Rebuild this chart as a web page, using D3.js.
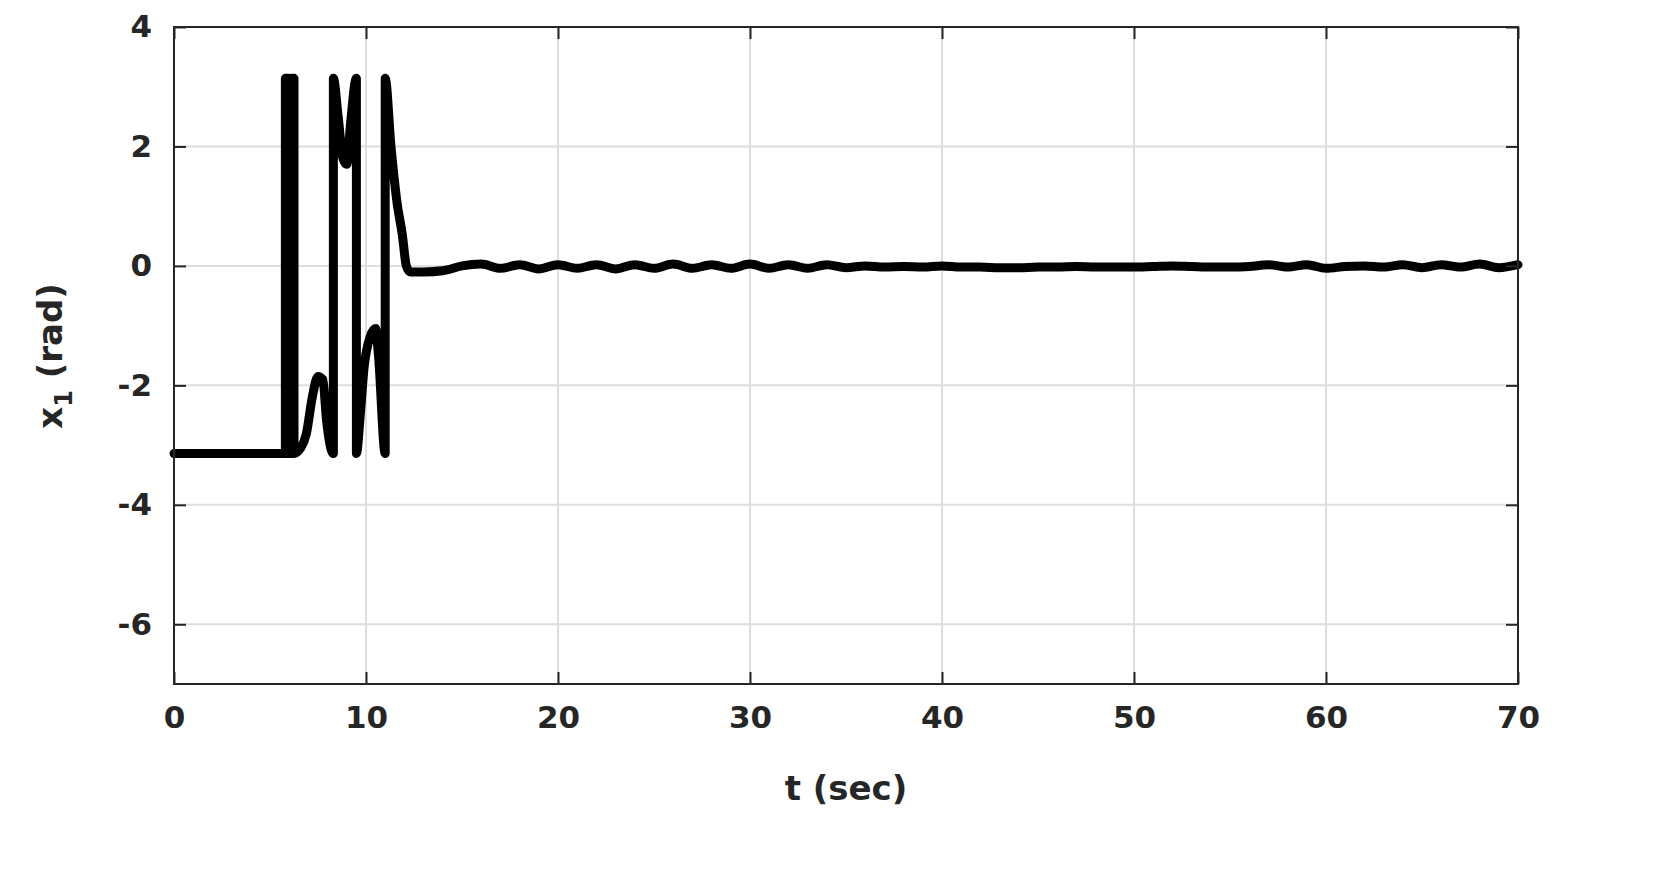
<!DOCTYPE html><html><head><meta charset="utf-8"><script src="https://cdn.jsdelivr.net/npm/d3@7"></script>
<style>body{margin:0;background:#fff}</style></head><body><svg id="c" width="1659" height="873"></svg><script>
const tHead=[0,5.8,5.8,5.95,5.95,6.1,6.1,6.25,6.25,6.4,6.6,6.9,7.2,7.5,7.75,7.95,8.3,8.3,8.55,8.8,9.0,9.2,9.5,9.5,9.7,9.9,10.2,10.5,10.65,11.0,11.0,11.3,11.6,11.9,12.1,12.3,12.6];
const xHead=[-3.14,-3.14,3.14,3.14,-3.14,-3.14,3.14,3.14,-3.14,-3.12,-3.05,-2.8,-2.2,-1.85,-1.9,-2.6,-3.14,3.14,2.5,1.8,1.7,2.4,3.14,-3.14,-2.5,-1.7,-1.2,-1.05,-1.5,-3.14,3.14,2.0,1.1,0.5,0.0,-0.1,-0.1];
const tTail=[13,14,15,16,17,18,19,20,21,22,23,24,25,26,27,28,29,30,31,32,33,34,35,36,37,38,39,40,41,42,43,44,45,46,47,48,49,50,51,52,53,54,55,56,57,58,59,60,61,62,63,64,65,66,67,68,69,70];
const xTail=[-0.1,-0.08,0.0,0.03,-0.04,0.02,-0.05,0.02,-0.04,0.02,-0.05,0.02,-0.04,0.03,-0.04,0.02,-0.04,0.03,-0.04,0.02,-0.04,0.02,-0.03,0.0,-0.02,-0.01,-0.02,0.0,-0.02,-0.02,-0.03,-0.03,-0.02,-0.02,-0.01,-0.02,-0.02,-0.02,-0.01,0.0,-0.01,-0.02,-0.02,-0.01,0.02,-0.02,0.02,-0.04,-0.01,0.0,-0.02,0.02,-0.03,0.02,-0.02,0.03,-0.03,0.02];
const tVals=tHead.concat(tTail), xVals=xHead.concat(xTail);
const xTicks=[0,10,20,30,40,50,60,70], yTicks=[-6,-4,-2,0,2,4];
const svg=d3.select('#c');
const x=d3.scaleLinear().domain([0,70]).range([174,1518]);
const y=d3.scaleLinear().domain([-7,4]).range([684,27]);
const g=svg.append('g');
g.selectAll('.gx').data(xTicks).join('line').attr('x1',d=>x(d)).attr('x2',d=>x(d)).attr('y1',27).attr('y2',684).attr('stroke','#dedede').attr('stroke-width',2);
g.selectAll('.gy').data(yTicks).join('line').attr('y1',d=>y(d)).attr('y2',d=>y(d)).attr('x1',174).attr('x2',1518).attr('stroke','#dedede').attr('stroke-width',2);
svg.append('path').datum(tVals.map((t,i)=>[t,xVals[i]])).attr('d',d3.line().x(d=>x(d[0])).y(d=>y(d[1])).curve(d3.curveMonotoneX)).attr('fill','none').attr('stroke','#000').attr('stroke-width',9).attr('stroke-linejoin','round').attr('stroke-linecap','round');
svg.append('rect').attr('x',174).attr('y',27).attr('width',1344).attr('height',657).attr('fill','none').attr('stroke','#262626').attr('stroke-width',2);
const fmt=d=>String(d).replace('\u2212','-');
svg.append('g').attr('transform','translate(0,684)').call(d3.axisBottom(x).tickValues(xTicks).tickSize(-12).tickPadding(22).tickFormat(fmt));
svg.append('g').attr('transform','translate(174,0)').call(d3.axisLeft(y).tickValues(yTicks).tickSize(-12).tickPadding(22).tickFormat(fmt));
svg.append('g').attr('transform','translate(1518,0)').call(d3.axisRight(y).tickValues(yTicks).tickSize(-12).tickFormat(''));
svg.append('g').attr('transform','translate(0,27)').call(d3.axisTop(x).tickValues(xTicks).tickSize(-12).tickFormat(''));
svg.selectAll('.domain').remove();
svg.selectAll('.tick line').attr('stroke','#262626').attr('stroke-width',2);
svg.selectAll('.tick text').attr('font-family','DejaVu Sans').attr('font-weight','bold').attr('font-size',31).attr('fill','#262626');
svg.append('text').attr('x',846).attr('y',800).attr('text-anchor','middle').attr('font-family','DejaVu Sans').attr('font-weight','bold').attr('font-size',34).attr('fill','#262626').text('t (sec)');
const yl=svg.append('text').attr('transform','translate(62,356) rotate(-90)').attr('text-anchor','middle').attr('font-family','DejaVu Sans').attr('font-weight','bold').attr('font-size',34).attr('fill','#262626');
yl.append('tspan').text('x');yl.append('tspan').attr('font-size',24).attr('dy',10).text('1');yl.append('tspan').attr('dy',-10).text(' (rad)');
</script></body></html>
